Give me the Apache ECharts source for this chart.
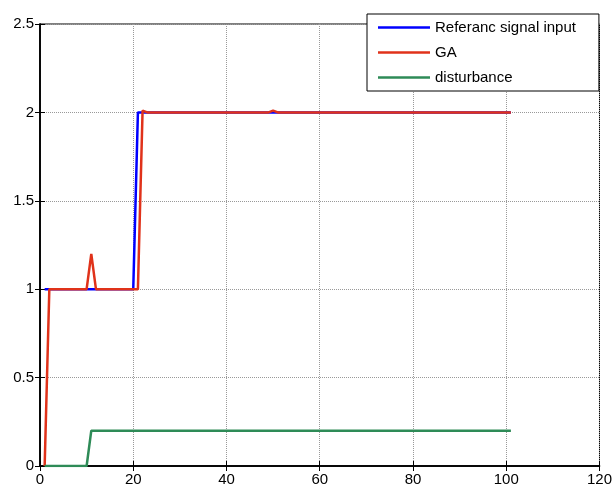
<!DOCTYPE html>
<html>
<head>
<meta charset="utf-8">
<script src="https://cdn.jsdelivr.net/npm/echarts@6/dist/echarts.min.js"></script>
<style>
html,body{margin:0;padding:0;background:#fff;}
#c{width:615px;height:487px;}
</style>
</head>
<body>
<div id="c"></div>
<script>
// Series names
const seriesNames = ['Referanc signal input', 'GA', 'disturbance'];
// Reference signal input (breakpoints)
const refX = [1, 20, 21, 101];
const refY = [1, 1, 2, 2];
// GA response
const gaX = [1, 2, 10, 11, 12, 21, 22, 23, 49, 50, 51, 101];
const gaY = [0, 1, 1, 1.2, 1, 1, 2.01, 2, 2, 2.01, 2, 2];
// Disturbance
const distX = [1, 10, 11, 101];
const distY = [0, 0, 0.2, 0.2];
// Axis ranges
const xTicks = [0, 20, 40, 60, 80, 100, 120];
const yTicks = [0, 0.5, 1, 1.5, 2, 2.5];

function pairs(xs, ys) { return xs.map((x, i) => [x, ys[i]]); }

const font = 'Liberation Sans, Arial, sans-serif';
const chart = echarts.init(document.getElementById('c'), null, {renderer: 'canvas'});

const baseX = {
  type: 'value', min: xTicks[0], max: xTicks[xTicks.length - 1], interval: 20
};
const baseY = {
  type: 'value', min: yTicks[0], max: yTicks[yTicks.length - 1], interval: 0.5
};

chart.setOption({
  animation: false,
  backgroundColor: '#fff',
  grid: {left: 40, right: 13, top: 24, bottom: 21, show: true, borderColor: '#000', borderWidth: 1, containLabel: false},
  legend: {
    orient: 'vertical',
    left: 367, top: 14,
    padding: [6, 23, 6, 11],
    itemGap: 10,
    itemWidth: 52,
    itemHeight: 2.5,
    icon: 'rect',
    backgroundColor: '#fff',
    borderColor: '#000',
    borderWidth: 1,
    borderRadius: 0,
    textStyle: {fontFamily: font, fontSize: 15, color: '#000', lineHeight: 14, height: 14},
    data: seriesNames
  },
  xAxis: [
    Object.assign({}, baseX, {
      position: 'bottom',
      axisLine: {show: true, onZero: false, lineStyle: {color: '#000', width: 1.5}},
      axisTick: {show: true, inside: true, length: 5, lineStyle: {color: '#000'}},
      axisLabel: {fontFamily: font, fontSize: 15, color: '#000', margin: 6},
      splitLine: {show: true, lineStyle: {color: '#999', type: [1, 1], width: 1}}
    }),
    Object.assign({}, baseX, {
      position: 'top',
      axisLine: {show: true, lineStyle: {color: '#000', width: 1.5}},
      axisTick: {show: true, inside: true, length: 5, lineStyle: {color: '#000'}},
      axisLabel: {show: false},
      splitLine: {show: false}
    })
  ],
  yAxis: [
    Object.assign({}, baseY, {
      position: 'left',
      axisLine: {show: true, onZero: false, lineStyle: {color: '#000', width: 1.5}},
      axisTick: {show: true, inside: true, length: 5, lineStyle: {color: '#000'}},
      axisLabel: {fontFamily: font, fontSize: 15, color: '#000', margin: 6},
      splitLine: {show: true, lineStyle: {color: '#999', type: [1, 1], width: 1}}
    }),
    Object.assign({}, baseY, {
      position: 'right',
      axisLine: {show: true, lineStyle: {color: '#000', width: 1.5}},
      axisTick: {show: true, inside: true, length: 5, lineStyle: {color: '#000'}},
      axisLabel: {show: false},
      splitLine: {show: false}
    })
  ],
  series: [
    {name: seriesNames[0], type: 'line', xAxisIndex: 0, yAxisIndex: 0, symbol: 'none',
     lineStyle: {color: '#0000ff', width: 2.5}, itemStyle: {color: '#0000ff'},
     data: pairs(refX, refY)},
    {name: seriesNames[1], type: 'line', xAxisIndex: 0, yAxisIndex: 0, symbol: 'none',
     lineStyle: {color: '#e0321a', width: 2.5}, itemStyle: {color: '#e0321a'},
     data: pairs(gaX, gaY)},
    {name: seriesNames[2], type: 'line', xAxisIndex: 0, yAxisIndex: 0, symbol: 'none',
     lineStyle: {color: '#2e8b57', width: 2.5}, itemStyle: {color: '#2e8b57'},
     data: pairs(distX, distY)}
  ]
});
</script>
</body>
</html>
